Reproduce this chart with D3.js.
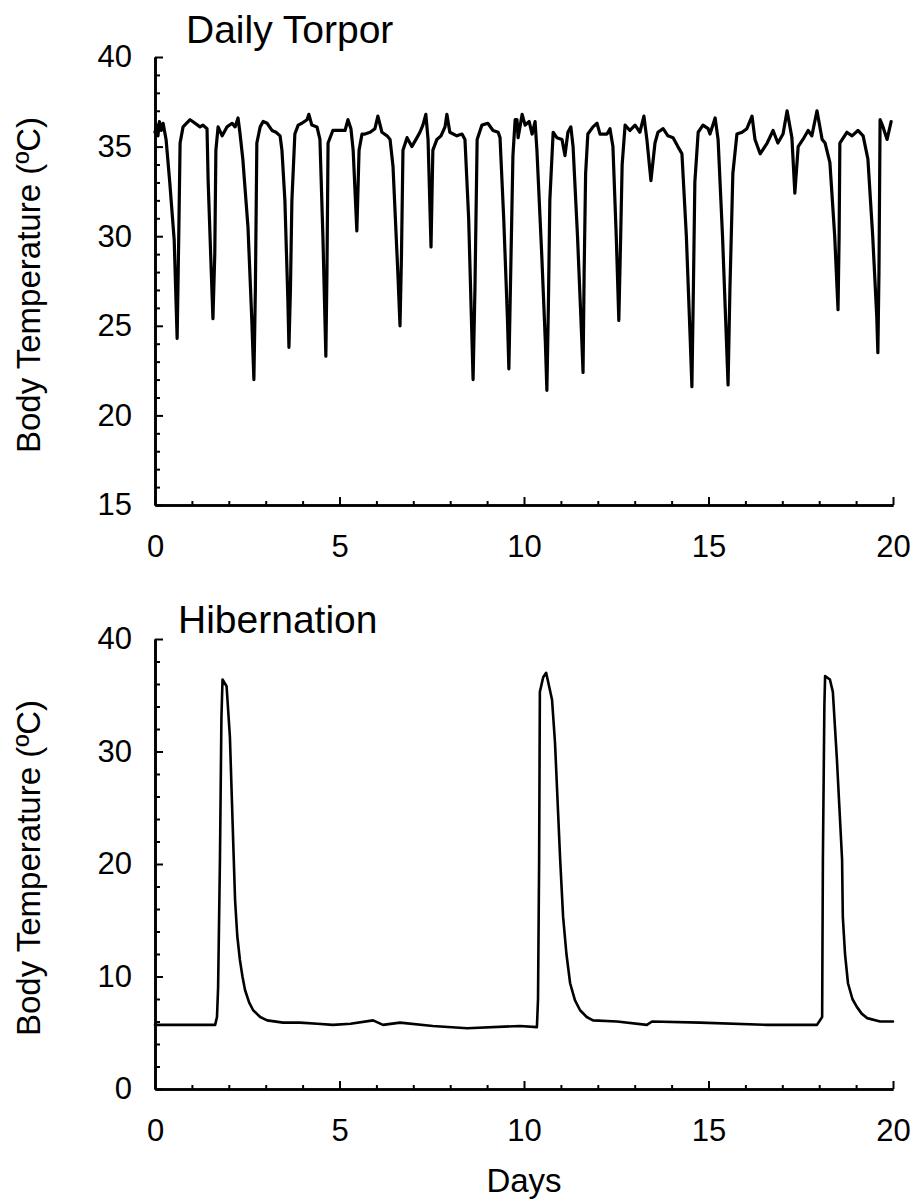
<!DOCTYPE html>
<html>
<head>
<meta charset="utf-8">
<script src="https://cdn.jsdelivr.net/npm/d3@7"></script>
<style>
  body { margin: 0; background: #fff; }
  svg { display: block; }
</style>
</head>
<body>
<div id="chart"></div>
<script>
// tick labels
const dayTicks = [0, 5, 10, 15, 20];
const torporTempTicks = [15, 20, 25, 30, 35, 40];
const hibernationTempTicks = [0, 10, 20, 30, 40];

// [day, body temperature]
const torporPoints = [
  [0.00, 35.8], [0.05, 36.2], [0.08, 35.6], [0.12, 36.4], [0.17, 35.9], [0.22, 36.3], [0.30, 35.4],
  [0.40, 33.0], [0.52, 29.8], [0.60, 24.3], [0.64, 29.5], [0.68, 35.2], [0.76, 36.1], [0.95, 36.5],
  [1.02, 36.4], [1.22, 36.1], [1.30, 36.2], [1.41, 36.0], [1.44, 33.1], [1.52, 28.3], [1.57, 25.4],
  [1.62, 29.0], [1.65, 34.8], [1.71, 36.1], [1.82, 35.6], [1.95, 36.1], [2.09, 36.3], [2.17, 36.1],
  [2.25, 36.6], [2.30, 35.8], [2.38, 34.3], [2.52, 30.5], [2.62, 25.5], [2.68, 22.0], [2.72, 27.0],
  [2.76, 35.2], [2.85, 36.1], [2.93, 36.4], [3.04, 36.3], [3.17, 35.9], [3.28, 35.8], [3.39, 35.6],
  [3.44, 34.8], [3.52, 32.0], [3.60, 26.5], [3.63, 23.8], [3.67, 27.0], [3.71, 32.0], [3.79, 35.7],
  [3.88, 36.2], [3.98, 36.3], [4.12, 36.5], [4.17, 36.8], [4.25, 36.2], [4.39, 36.1], [4.47, 35.4],
  [4.55, 30.0], [4.63, 23.3], [4.66, 28.0], [4.69, 35.2], [4.82, 35.9], [5.01, 35.9], [5.15, 35.9],
  [5.23, 36.5], [5.31, 36.0], [5.37, 34.8], [5.47, 30.3], [5.53, 34.8], [5.61, 35.7], [5.69, 35.7],
  [5.83, 35.8], [5.96, 36.0], [6.04, 36.7], [6.15, 35.8], [6.29, 35.6], [6.37, 35.4], [6.45, 33.9],
  [6.58, 28.0], [6.64, 25.0], [6.68, 29.0], [6.72, 34.8], [6.83, 35.5], [6.96, 35.0], [7.10, 35.5],
  [7.18, 35.8], [7.26, 36.2], [7.34, 36.8], [7.40, 35.4], [7.48, 29.4], [7.53, 34.8], [7.64, 35.4],
  [7.75, 35.6], [7.86, 36.1], [7.91, 36.8], [7.99, 35.8], [8.18, 35.6], [8.32, 35.7], [8.40, 35.4],
  [8.50, 31.0], [8.58, 25.0], [8.62, 22.0], [8.67, 27.0], [8.73, 35.4], [8.86, 36.2], [9.02, 36.3],
  [9.16, 35.9], [9.30, 35.8], [9.35, 35.5], [9.45, 31.0], [9.55, 25.5], [9.59, 22.6], [9.64, 28.0],
  [9.70, 34.5], [9.76, 36.5], [9.81, 36.5], [9.84, 35.5], [9.95, 36.8], [10.03, 36.2], [10.14, 36.4],
  [10.22, 35.7], [10.30, 36.4], [10.35, 34.8], [10.48, 29.0], [10.58, 24.0], [10.62, 21.4], [10.66, 26.0],
  [10.70, 32.0], [10.79, 35.8], [10.89, 35.5], [11.03, 35.4], [11.11, 34.5], [11.19, 35.8], [11.27, 36.1],
  [11.33, 35.0], [11.45, 30.0], [11.56, 24.5], [11.60, 22.4], [11.63, 28.0], [11.67, 33.5], [11.73, 35.7],
  [11.87, 36.1], [11.98, 36.3], [12.06, 35.7], [12.25, 35.7], [12.33, 36.0], [12.41, 35.0], [12.50, 30.0],
  [12.57, 25.3], [12.62, 30.0], [12.66, 34.0], [12.74, 36.2], [12.87, 35.9], [13.01, 36.2], [13.14, 35.8],
  [13.25, 36.7], [13.33, 35.4], [13.44, 33.1], [13.55, 35.2], [13.63, 35.8], [13.77, 36.0], [13.90, 35.6],
  [14.04, 35.5], [14.17, 35.0], [14.28, 34.6], [14.40, 30.0], [14.50, 24.5], [14.55, 21.6], [14.59, 27.0],
  [14.63, 33.0], [14.72, 35.8], [14.85, 36.2], [14.99, 36.0], [15.04, 35.7], [15.18, 36.6], [15.26, 35.4],
  [15.38, 30.0], [15.48, 24.5], [15.53, 21.7], [15.58, 27.0], [15.66, 33.5], [15.77, 35.7], [15.91, 35.8],
  [16.04, 36.0], [16.18, 36.7], [16.26, 35.4], [16.40, 34.6], [16.59, 35.2], [16.75, 35.9], [16.88, 35.2],
  [17.02, 35.7], [17.13, 37.0], [17.26, 35.5], [17.34, 32.4], [17.43, 35.0], [17.56, 35.4], [17.70, 35.9],
  [17.80, 35.6], [17.94, 37.0], [18.08, 35.4], [18.16, 35.2], [18.29, 34.1], [18.42, 30.0], [18.51, 25.9],
  [18.54, 30.0], [18.56, 35.2], [18.75, 35.8], [18.89, 35.6], [19.05, 35.9], [19.19, 35.6], [19.32, 34.3],
  [19.45, 30.0], [19.56, 25.5], [19.59, 23.5], [19.62, 28.0], [19.65, 36.5], [19.73, 36.1], [19.84, 35.4],
  [19.95, 36.4]
];

const hibernationPoints = [
  [0.00, 5.7], [1.63, 5.7], [1.68, 6.4], [1.71, 9.0], [1.76, 20.4], [1.80, 33.0], [1.83, 36.4],
  [1.94, 35.8], [2.03, 31.3], [2.12, 21.9], [2.17, 16.8], [2.23, 13.6], [2.30, 11.5], [2.37, 10.0],
  [2.44, 8.8], [2.55, 7.7], [2.66, 7.0], [2.85, 6.4], [3.04, 6.1], [3.47, 5.9], [3.93, 5.9], [4.40, 5.8],
  [4.82, 5.7], [5.30, 5.8], [5.91, 6.1], [6.18, 5.7], [6.64, 5.9], [7.53, 5.6], [8.46, 5.4], [9.89, 5.6],
  [10.35, 5.5], [10.38, 8.0], [10.41, 20.4], [10.43, 35.3], [10.52, 36.6], [10.60, 37.0], [10.76, 34.6],
  [10.84, 30.8], [10.98, 20.4], [11.06, 15.3], [11.15, 12.0], [11.25, 9.4], [11.38, 7.9], [11.52, 7.0],
  [11.70, 6.4], [11.87, 6.1], [12.52, 6.0], [13.33, 5.7], [13.47, 6.0], [14.77, 5.9], [16.59, 5.7],
  [17.94, 5.7], [18.08, 6.4], [18.10, 20.4], [18.14, 34.0], [18.16, 36.7], [18.29, 36.4], [18.37, 35.3],
  [18.48, 29.3], [18.62, 20.4], [18.64, 15.3], [18.70, 12.0], [18.78, 9.4], [18.90, 8.0], [19.02, 7.3],
  [19.15, 6.7], [19.30, 6.3], [19.65, 6.0], [20.00, 6.0]
];

const chart = {};

chart.create = function(){
  this.width_svg = 921;
  this.height_svg = 1202;
  this.font = '"Liberation Sans", Arial, Helvetica, sans-serif';
  this.svg = d3.select('#chart')
              .append('svg')
              .attr('width', this.width_svg)
              .attr('height', this.height_svg)
              .attr('font-family', this.font);
  this.xScale = d3.scaleLinear()
                  .domain([0, 20])
                  .range([155, 893]);

  this.drawPanel({
    title: 'Daily Torpor', titleX: 186, titleY: 43,
    data: torporPoints, domain: [15, 40], top: 57, bottom: 505,
    majors: torporTempTicks, minorStep: 1, strokeWidth: 3.2
  });
  this.drawPanel({
    title: 'Hibernation', titleX: 178, titleY: 633,
    data: hibernationPoints, domain: [0, 40], top: 639, bottom: 1089,
    majors: hibernationTempTicks, minorStep: 2, strokeWidth: 2.6
  });

  // x axis title, only under the lower panel
  this.svg.append('text')
          .attr('x', (this.xScale.range()[0] + this.xScale.range()[1]) / 2)
          .attr('y', 1192)
          .attr('text-anchor', 'middle')
          .attr('font-size', 33)
          .text('Days');
}

chart.drawPanel = function(cfg){
  let svg = this.svg.append('g'),
      xScale = this.xScale,
      font = this.font;
  let yScale = d3.scaleLinear()
                .domain(cfg.domain)
                .range([cfg.bottom, cfg.top]);
  let x0 = xScale.range()[0];

  let minorY = d3.range(cfg.domain[0], cfg.domain[1] + 0.001, cfg.minorStep)
                 .filter(d => !cfg.majors.includes(d));
  let minorX = d3.range(0, 21).filter(d => !dayTicks.includes(d));

  let style = g => g.attr('font-family', font)
                    .call(g => g.select('.domain').attr('stroke', '#000').attr('stroke-width', 2.6))
                    .call(g => g.selectAll('.tick line').attr('stroke', '#000').attr('stroke-width', 2))
                    .call(g => g.selectAll('.tick text').attr('fill', '#000').attr('font-size', 31));

  // y axis: ticks point inwards
  svg.append('g')
     .attr('transform', `translate(${x0}, 0)`)
     .call(d3.axisLeft(yScale).tickValues(minorY).tickFormat('').tickSizeInner(-5).tickSizeOuter(0))
     .call(style);
  svg.append('g')
     .attr('transform', `translate(${x0}, 0)`)
     .call(d3.axisLeft(yScale).tickValues(cfg.majors).tickSizeInner(-8).tickSizeOuter(0).tickPadding(23))
     .call(style);

  // x axis
  svg.append('g')
     .attr('transform', `translate(0, ${cfg.bottom})`)
     .call(d3.axisBottom(xScale).tickValues(minorX).tickFormat('').tickSizeInner(-4).tickSizeOuter(0))
     .call(style);
  svg.append('g')
     .attr('transform', `translate(0, ${cfg.bottom})`)
     .call(d3.axisBottom(xScale).tickValues(dayTicks).tickSizeInner(-8).tickSizeOuter(0).tickPadding(30))
     .call(style);

  // trace
  let line = d3.line()
              .x(d => xScale(d[0]))
              .y(d => yScale(d[1]));
  svg.append('path')
     .datum(cfg.data)
     .attr('fill', 'none')
     .attr('stroke', '#000')
     .attr('stroke-width', cfg.strokeWidth)
     .attr('stroke-linejoin', 'round')
     .attr('stroke-linecap', 'round')
     .attr('d', line);

  // panel title
  svg.append('text')
     .attr('x', cfg.titleX)
     .attr('y', cfg.titleY)
     .attr('font-size', 39)
     .text(cfg.title);

  // y axis title
  svg.append('text')
     .attr('transform', `translate(40, ${(cfg.top + cfg.bottom) / 2 + 4}) rotate(-90)`)
     .attr('text-anchor', 'middle')
     .attr('font-size', 33)
     .text('Body Temperature (ºC)');
}

chart.create();
</script>
</body>
</html>
